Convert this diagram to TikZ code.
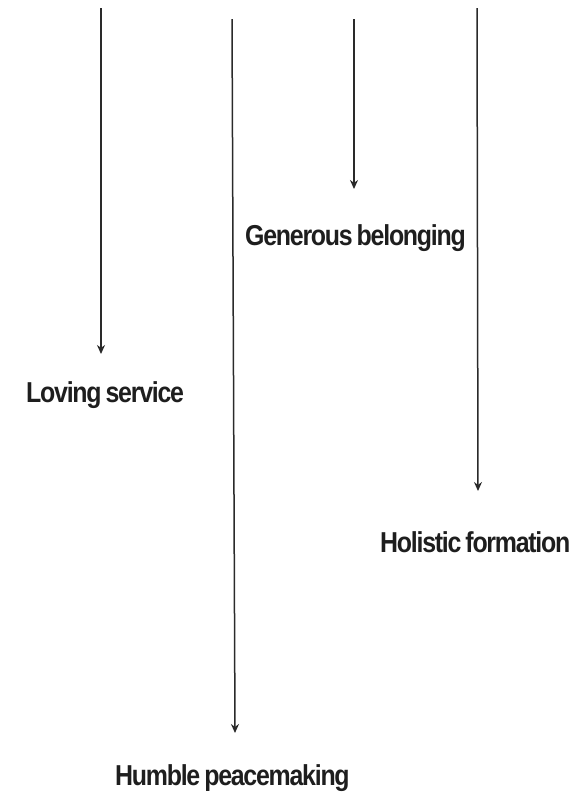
\documentclass[tikz,border=0pt]{standalone}
\usepackage{fontspec}
\setmainfont{Liberation Sans}
\newfontfamily\lblfont[LetterSpace=-5,WordSpace=0.7]{Liberation Sans}
\usetikzlibrary{arrows.meta}
\definecolor{ink}{HTML}{1E1E1E}
\definecolor{arrowc}{HTML}{2A2A2A}
\tikzset{
  lbl/.style={anchor=base west, inner sep=0pt, text=ink, font=\lblfont\fontsize{28.8}{30}\selectfont\bfseries},
  arr/.style={draw=arrowc, line width=1.5pt, -{Stealth[length=9pt,width=8pt]}}
}
\newcommand{\sq}[1]{\scalebox{0.865}[1]{#1}}
\begin{document}
\begin{tikzpicture}[x=1pt,y=-1pt]
\useasboundingbox (0,0) rectangle (583,793);
\coordinate (s1) at (101,8);
\coordinate (e1) at (101,354);
\coordinate (s2) at (232,19);
\coordinate (e2) at (235,733);
\coordinate (s3) at (354,19);
\coordinate (e3) at (354,189);
\coordinate (s4) at (477,8);
\coordinate (e4) at (478,491);
\draw[arr] (s1) -- (e1);
\draw[arr] (s2) -- (e2);
\draw[arr] (s3) -- (e3);
\draw[arr] (s4) -- (e4);
\node[lbl] (l1) at (26,402) {\sq{Loving service}};
\node[lbl] (l2) at (245,245) {\sq{Generous belonging}};
\node[lbl] (l3) at (380,552) {\sq{Holistic formation}};
\node[lbl] (l4) at (115,785) {\sq{Humble peacemaking}};
\end{tikzpicture}
\end{document}
